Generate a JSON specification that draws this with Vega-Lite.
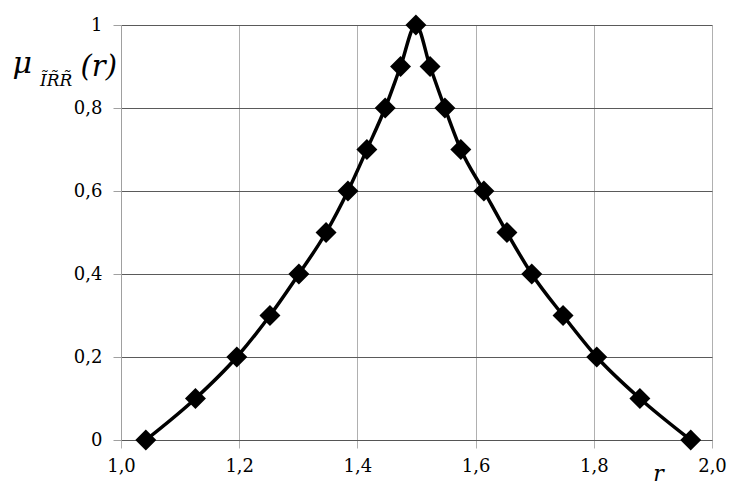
{
  "$schema": "https://vega.github.io/schema/vega-lite/v6.json",
  "autosize": "none",
  "width": 591,
  "height": 415,
  "padding": {"left": 121, "top": 25, "right": 19, "bottom": 46},
  "background": "white",
  "config": {"view": {"stroke": null}},
  "title": {
    "text": "\u0128R\u0303R\u0303",
    "anchor": "start",
    "frame": "group",
    "font": "DejaVu Serif",
    "fontStyle": "italic",
    "fontWeight": "normal",
    "fontSize": 17,
    "color": "black",
    "baseline": "alphabetic",
    "offset": 0,
    "dx": -81,
    "dy": 88
  },
  "data": {
    "values": [
      {"r": 1.042, "mu": 0.0},
      {"r": 1.126, "mu": 0.1},
      {"r": 1.196, "mu": 0.2},
      {"r": 1.252, "mu": 0.3},
      {"r": 1.301, "mu": 0.4},
      {"r": 1.347, "mu": 0.5},
      {"r": 1.384, "mu": 0.6},
      {"r": 1.416, "mu": 0.7},
      {"r": 1.447, "mu": 0.8},
      {"r": 1.473, "mu": 0.9},
      {"r": 1.499, "mu": 1.0},
      {"r": 1.523, "mu": 0.9},
      {"r": 1.548, "mu": 0.8},
      {"r": 1.575, "mu": 0.7},
      {"r": 1.614, "mu": 0.6},
      {"r": 1.653, "mu": 0.5},
      {"r": 1.695, "mu": 0.4},
      {"r": 1.748, "mu": 0.3},
      {"r": 1.805, "mu": 0.2},
      {"r": 1.878, "mu": 0.1},
      {"r": 1.964, "mu": 0.0}
    ]
  },
  "encoding": {
    "x": {
      "field": "r",
      "type": "quantitative",
      "scale": {"domain": [1, 2], "nice": false, "zero": false},
      "axis": {
        "values": [1, 1.2, 1.4, 1.6, 1.8, 2],
        "labelExpr": "replace(format(datum.value, '.1f'), '.', ',')",
        "labelFont": "DejaVu Serif",
        "labelFontSize": 18,
        "labelColor": "black",
        "labelPadding": 9,
        "labelFlush": false,
        "grid": true,
        "gridColor": "#b0b0b0",
        "gridWidth": 1,
        "domainColor": "#555555",
        "domainWidth": 1,
        "tickColor": "#b0b0b0",
        "tickSize": 8,
        "title": "r",
        "titleFont": "DejaVu Serif",
        "titleFontStyle": "italic",
        "titleFontWeight": "normal",
        "titleFontSize": 22,
        "titleColor": "black",
        "titleX": 537,
        "titleY": 40,
        "titleBaseline": "alphabetic",
        "titleAlign": "center"
      }
    }
  },
  "layer": [
    {
      "mark": {"type": "line", "color": "black", "strokeWidth": 3.5, "interpolate": "monotone"},
      "encoding": {
        "y": {
          "field": "mu",
          "type": "quantitative",
          "scale": {"domain": [0, 1], "nice": false},
          "axis": {
            "values": [0, 0.2, 0.4, 0.6, 0.8, 1],
            "labelExpr": "datum.value == 0 || datum.value == 1 ? format(datum.value, 'd') : replace(format(datum.value, '.1f'), '.', ',')",
            "labelFont": "DejaVu Serif",
            "labelFontSize": 18,
            "labelColor": "black",
            "labelPadding": 11,
            "labelFlush": false,
            "grid": true,
            "gridColor": "#5a5a5a",
            "gridWidth": 1,
            "domainColor": "#a0a0a0",
            "domainWidth": 1,
            "tickColor": "#a0a0a0",
            "tickSize": 8,
            "title": "\u03bc",
            "titleFont": "DejaVu Serif",
            "titleFontStyle": "italic",
            "titleFontWeight": "normal",
            "titleFontSize": 30,
            "titleColor": "black",
            "titleAngle": 0,
            "titleAlign": "left",
            "titleBaseline": "alphabetic",
            "titleX": -109,
            "titleY": 47
          }
        }
      }
    },
    {
      "mark": {"type": "point", "shape": "diamond", "filled": true, "color": "black", "opacity": 1, "size": 440},
      "encoding": {
        "y": {
          "field": "mu",
          "type": "quantitative",
          "scale": {"domain": [0, 1], "nice": false},
          "axis": {
            "orient": "left",
            "domain": false,
            "ticks": false,
            "labels": false,
            "grid": false,
            "title": "(r)",
            "titleFont": "DejaVu Serif",
            "titleFontStyle": "italic",
            "titleFontWeight": "normal",
            "titleFontSize": 29,
            "titleColor": "black",
            "titleAngle": 0,
            "titleAlign": "left",
            "titleBaseline": "alphabetic",
            "titleX": -41,
            "titleY": 50
          }
        }
      }
    }
  ],
  "resolve": {"scale": {"y": "shared"}, "axis": {"y": "independent"}}
}
